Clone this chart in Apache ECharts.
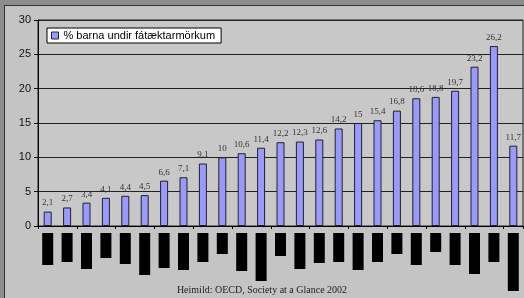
<!DOCTYPE html>
<html>
<head>
<meta charset="utf-8">
<script src="https://cdn.jsdelivr.net/npm/echarts@6/dist/echarts.min.js"></script>
<style>
  html, body { margin: 0; padding: 0; background: #c4c4c4; }
  #chart { width: 524px; height: 298px; }
</style>
</head>
<body>
<div id="chart"></div>
<script>
// 25 lönd, gildi lesin af myndinni
const values = [2.1, 2.7, 3.4, 4.1, 4.4, 4.5, 6.6, 7.1, 9.1, 10, 10.6, 11.4, 12.2, 12.3, 12.6,
  14.2, 15, 15.4, 16.8, 18.6, 18.8, 19.7, 23.2, 26.2, 11.7];
const categories = values.map((v, i) => 'c' + (i + 1));
// svörtu reitirnir undir ásnum (lengd í px)
const blockLengths = [32, 29, 36, 25, 31, 42, 35, 37, 29, 21, 38, 48, 23, 36, 30,
  29, 37, 29, 21, 32, 19, 32, 41, 29, 58];
const yTicks = [0, 5, 10, 15, 20, 25, 30];
const seriesName = '% barna undir fátæktarmörkum';
const source = 'Heimild: OECD, Society at a Glance 2002';

const chart = echarts.init(document.getElementById('chart'));
chart.setOption({
  backgroundColor: '#c4c4c4',
  animation: false,
  grid: [
    { left: 38, right: 1, top: 20, bottom: 72, show: true, borderColor: '#222', borderWidth: 1, backgroundColor: '#c8c8c8' },
    { left: 38, right: 1, top: 233, height: 60 },
  ],
  legend: {
    left: 47, top: 28,
    backgroundColor: '#fff', borderColor: '#000', borderWidth: 1,
    padding: [2, 6, 2, 4],
    itemWidth: 7, itemHeight: 7, itemGap: 4,
    textStyle: { fontFamily: 'Liberation Sans, Arial', fontSize: 11, color: '#000' },
    data: [{ name: seriesName, icon: 'rect', itemStyle: { borderColor: '#222', borderWidth: 1 } }],
  },
  xAxis: [
    {
      type: 'category', data: categories, gridIndex: 0,
      axisLine: { lineStyle: { color: '#000' } },
      axisTick: { show: true, length: 3, lineStyle: { color: '#000' } },
      axisLabel: { show: false },
    },
    { type: 'category', data: categories, gridIndex: 1, show: false },
  ],
  yAxis: [
    {
      type: 'value', gridIndex: 0, min: yTicks[0], max: yTicks[yTicks.length - 1], interval: 5,
      axisLine: { show: true, lineStyle: { color: '#000' } },
      axisTick: { show: true, length: 4, lineStyle: { color: '#000' } },
      axisLabel: { color: '#111', fontFamily: 'Liberation Sans, Arial', fontSize: 11, margin: 7 },
      splitLine: { lineStyle: { color: '#222', width: 1 } },
    },
    { type: 'value', gridIndex: 1, min: 0, max: 60, inverse: true, show: false },
  ],
  series: [
    {
      name: seriesName, type: 'bar', data: values, barWidth: 8,
      xAxisIndex: 0, yAxisIndex: 0,
      itemStyle: { color: '#9999ff', borderColor: '#222', borderWidth: 1 },
      label: {
        show: true, position: 'top', distance: 4,
        fontFamily: 'Liberation Serif, Times New Roman', fontSize: 9, color: '#333',
        formatter: p => String(p.value).replace('.', ','),
      },
    },
    {
      type: 'bar', data: blockLengths, barWidth: 11,
      xAxisIndex: 1, yAxisIndex: 1,
      itemStyle: { color: '#000' },
      silent: true,
    },
  ],
  graphic: [
    { type: 'rect', shape: { x: 0, y: 0, width: 524, height: 5 }, style: { fill: '#8c8c8c' }, silent: true },
    { type: 'rect', shape: { x: 0, y: 0, width: 4, height: 298 }, style: { fill: '#8c8c8c' }, silent: true },
    { type: 'line', shape: { x1: 4, y1: 5.5, x2: 524, y2: 5.5 }, style: { stroke: '#333', lineWidth: 1 }, silent: true },
    { type: 'line', shape: { x1: 4.5, y1: 5, x2: 4.5, y2: 298 }, style: { stroke: '#333', lineWidth: 1 }, silent: true },
    {
      type: 'text', left: 'center', top: 285,
      style: { text: source, fontFamily: 'Liberation Serif, Times New Roman', fontSize: 10, fill: '#222' },
    },
  ],
});
</script>
</body>
</html>
